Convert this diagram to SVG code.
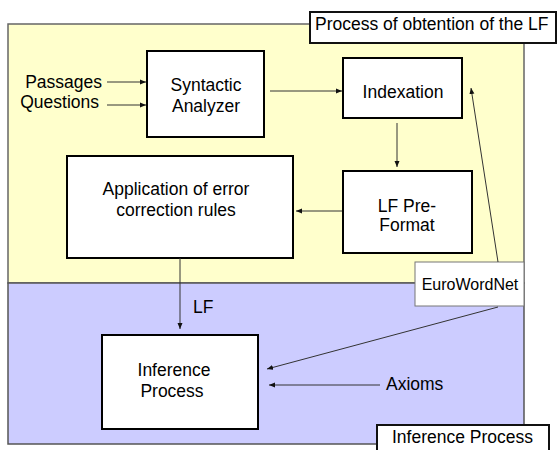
<svg xmlns="http://www.w3.org/2000/svg" width="557" height="450" viewBox="0 0 557 450">
<defs>
<marker id="ah" markerUnits="userSpaceOnUse" markerWidth="7" markerHeight="6" refX="6" refY="3" orient="auto">
<path d="M0,0.5 L6,3 L0,5.5 z" fill="#111"/>
</marker>
<style>
text{font-family:"Liberation Sans",Arial,sans-serif;font-size:17.5px;fill:#000}
.c{text-anchor:middle}
.box{fill:#fff;stroke:#000;stroke-width:2}
.lbl{fill:#fff;stroke:#111;stroke-width:2}
.con{stroke:#333;stroke-width:1;fill:none;marker-end:url(#ah)}
</style>
</defs>
<g id="region-lf">
<rect x="8" y="24" width="516" height="259" fill="#FFFFCC" stroke="#666" stroke-width="1.5"/>
</g>
<g id="region-inference">
<rect x="8" y="283" width="516" height="161" fill="#CCCCFF" stroke="#555" stroke-width="1.5"/>
</g>
<g id="title-lf">
<rect class="lbl" x="310" y="12" width="246" height="31"/>
<text x="315" y="30">Process of obtention of the LF</text>
</g>
<g id="title-inference">
<rect class="lbl" x="377" y="425" width="172" height="30"/>
<text x="392" y="443">Inference Process</text>
</g>
<g id="passages"><text x="102" y="87.5" text-anchor="end">Passages</text></g>
<g id="questions"><text x="99" y="108" text-anchor="end">Questions</text></g>
<g id="syntactic">
<rect class="box" x="147" y="51" width="117" height="86"/>
<text class="c" x="206" y="90.5">Syntactic</text>
<text class="c" x="206" y="111.5">Analyzer</text>
</g>
<g id="indexation">
<rect class="box" x="343" y="58" width="119" height="60"/>
<text class="c" x="403" y="98">Indexation</text>
</g>
<g id="application">
<rect class="box" x="67" y="156" width="226" height="102"/>
<text class="c" x="176" y="195">Application of error</text>
<text class="c" x="176" y="216">correction rules</text>
</g>
<g id="lfpreformat">
<rect class="box" x="343" y="171" width="129" height="82"/>
<text class="c" x="407" y="211.5">LF Pre-</text>
<text class="c" x="407" y="231">Format</text>
</g>
<g id="eurowordnet">
<rect x="415" y="262" width="109" height="44" fill="#fff" stroke="#777" stroke-width="1"/>
<text class="c" x="470" y="290" style="font-size:16px">EuroWordNet</text>
</g>
<g id="inference">
<rect class="box" x="102" y="335" width="156" height="94"/>
<text class="c" x="174" y="376">Inference</text>
<text class="c" x="172" y="397">Process</text>
</g>
<g id="lf-label"><text x="193" y="313">LF</text></g>
<g id="axioms"><text x="386" y="390">Axioms</text></g>
<g id="connectors">
<line class="con" x1="107" y1="82" x2="146" y2="82"/>
<line class="con" x1="107" y1="105" x2="146" y2="105"/>
<line class="con" x1="270" y1="91" x2="342" y2="91"/>
<line class="con" x1="397" y1="123" x2="397" y2="167"/>
<line class="con" x1="342" y1="211" x2="296" y2="211"/>
<line class="con" x1="180" y1="258" x2="180" y2="329"/>
<line class="con" x1="498" y1="262" x2="471" y2="88"/>
<line class="con" x1="498" y1="307" x2="267" y2="369"/>
<line class="con" x1="380" y1="385" x2="269" y2="385"/>
</g>
</svg>
